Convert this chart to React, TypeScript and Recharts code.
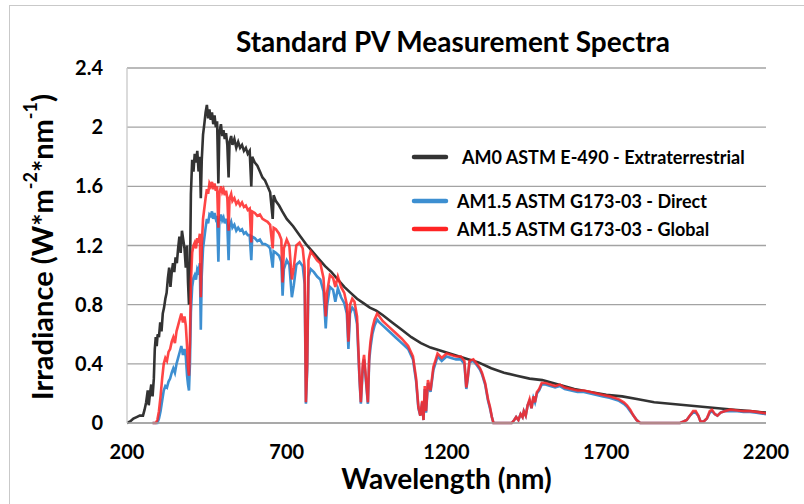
import * as React from "react"
import { LineChart, Line, XAxis, YAxis, CartesianGrid } from "recharts"

// [wavelength nm, irradiance W*m^-2*nm^-1]
const am0Spectrum: [number, number][] = [
  [200, 0.0], [210, 0.01], [220, 0.03], [230, 0.04], [240, 0.05], [250, 0.05], [255, 0.09],
  [260, 0.14], [265, 0.22], [268, 0.12], [272, 0.2], [276, 0.26], [280, 0.18], [284, 0.3],
  [287, 0.5], [290, 0.58], [293, 0.52], [296, 0.6], [300, 0.58], [304, 0.68], [308, 0.62],
  [312, 0.74], [316, 0.78], [320, 0.84], [324, 0.88], [328, 0.98], [332, 1.05], [336, 0.92],
  [340, 1.02], [344, 1.08], [348, 1.02], [352, 1.12], [356, 1.08], [360, 1.18], [364, 1.26],
  [368, 1.15], [372, 1.3], [376, 1.24], [380, 1.18], [384, 1.05], [388, 1.2], [391, 0.95],
  [394, 0.8], [397, 0.98], [400, 1.55], [404, 1.78], [408, 1.7], [412, 1.82], [416, 1.76],
  [420, 1.84], [424, 1.7], [428, 1.8], [431, 1.52], [434, 1.78], [438, 1.95], [442, 2.02],
  [446, 2.1], [450, 2.15], [454, 2.06], [458, 2.12], [462, 2.05], [466, 2.1], [470, 2.02],
  [474, 2.08], [478, 2.0], [482, 2.04], [486, 1.62], [489, 1.96], [494, 2.02], [498, 1.94],
  [502, 1.98], [506, 1.92], [510, 1.96], [514, 1.88], [518, 1.66], [521, 1.9], [526, 1.94],
  [530, 1.88], [536, 1.92], [542, 1.86], [548, 1.9], [554, 1.86], [560, 1.88], [566, 1.84],
  [572, 1.86], [578, 1.82], [584, 1.84], [589, 1.6], [592, 1.8], [600, 1.76], [608, 1.74],
  [616, 1.7], [624, 1.66], [632, 1.64], [640, 1.6], [648, 1.56], [656, 1.38], [659, 1.54],
  [666, 1.5], [676, 1.47], [686, 1.43], [700, 1.38], [720, 1.33], [740, 1.27], [760, 1.21],
  [780, 1.16], [800, 1.11], [820, 1.06], [840, 1.02], [860, 0.97], [880, 0.92], [900, 0.88],
  [920, 0.84], [940, 0.81], [960, 0.78], [980, 0.76], [1000, 0.73], [1030, 0.68], [1060, 0.63],
  [1090, 0.58], [1120, 0.54], [1150, 0.51], [1180, 0.49], [1210, 0.47], [1240, 0.45],
  [1270, 0.43], [1300, 0.41], [1340, 0.37], [1380, 0.34], [1420, 0.32], [1460, 0.3],
  [1500, 0.29], [1550, 0.26], [1600, 0.23], [1650, 0.21], [1700, 0.19], [1750, 0.18],
  [1800, 0.16], [1850, 0.14], [1900, 0.13], [1950, 0.12], [2000, 0.11], [2050, 0.1],
  [2100, 0.09], [2150, 0.08], [2200, 0.07],
]

const directSpectrum: [number, number][] = [
  [280, 0], [290, 0], [295, 0], [300, 0.03], [305, 0.08], [310, 0.15], [315, 0.22], [320, 0.25],
  [325, 0.24], [330, 0.28], [335, 0.3], [340, 0.34], [345, 0.37], [350, 0.34], [355, 0.4],
  [360, 0.44], [365, 0.48], [370, 0.52], [375, 0.46], [380, 0.5], [384, 0.45], [388, 0.32],
  [391, 0.26], [394, 0.22], [397, 0.4], [400, 0.75], [404, 0.92], [408, 0.98], [412, 1.0],
  [416, 0.97], [420, 1.04], [424, 1.02], [428, 1.08], [431, 0.63], [434, 1.0], [438, 1.18],
  [442, 1.25], [446, 1.32], [450, 1.38], [454, 1.35], [458, 1.41], [462, 1.4], [466, 1.43],
  [470, 1.38], [474, 1.42], [478, 1.38], [482, 1.4], [486, 1.09], [489, 1.36], [494, 1.41],
  [498, 1.37], [502, 1.39], [506, 1.35], [510, 1.38], [514, 1.34], [518, 1.1], [521, 1.33],
  [526, 1.36], [530, 1.32], [536, 1.34], [542, 1.3], [548, 1.32], [554, 1.3], [560, 1.31],
  [566, 1.28], [572, 1.29], [578, 1.27], [584, 1.27], [589, 1.1], [592, 1.26], [600, 1.25],
  [608, 1.23], [616, 1.24], [624, 1.21], [632, 1.21], [640, 1.2], [648, 1.18], [656, 1.05],
  [659, 1.16], [666, 1.15], [676, 1.13], [683, 1.09], [687, 0.86], [691, 1.04], [700, 1.1],
  [708, 1.07], [716, 0.85], [722, 0.93], [730, 1.07], [740, 1.09], [750, 1.06], [756, 0.94],
  [760, 0.13], [764, 0.36], [768, 0.99], [775, 1.04], [785, 1.02], [795, 0.99], [805, 0.97],
  [815, 0.89], [822, 0.64], [826, 0.79], [835, 0.92], [845, 0.9], [852, 0.82], [860, 0.91],
  [870, 0.85], [880, 0.81], [888, 0.74], [893, 0.5], [898, 0.74], [905, 0.78], [912, 0.76],
  [920, 0.67], [928, 0.28], [932, 0.13], [938, 0.37], [942, 0.43], [948, 0.28], [954, 0.13],
  [958, 0.42], [962, 0.51], [968, 0.6], [975, 0.66], [983, 0.7], [990, 0.68], [1000, 0.66],
  [1020, 0.62], [1040, 0.58], [1060, 0.54], [1080, 0.5], [1095, 0.43], [1105, 0.28],
  [1112, 0.1], [1118, 0.05], [1124, 0.14], [1128, 0.02], [1132, 0.23], [1136, 0.07],
  [1142, 0.27], [1150, 0.21], [1159, 0.36], [1165, 0.4], [1172, 0.45], [1185, 0.42],
  [1200, 0.45], [1215, 0.44], [1230, 0.43], [1245, 0.43], [1256, 0.4], [1262, 0.23],
  [1266, 0.29], [1272, 0.41], [1284, 0.42], [1295, 0.39], [1305, 0.36], [1311, 0.33],
  [1321, 0.26], [1330, 0.15], [1336, 0.1], [1342, 0.04], [1347, 0], [1380, 0], [1404, 0],
  [1412, 0.02], [1418, 0.04], [1425, 0.02], [1432, 0.06], [1438, 0.04], [1442, 0.08],
  [1448, 0.05], [1454, 0.12], [1460, 0.15], [1466, 0.1], [1472, 0.17], [1477, 0.14],
  [1483, 0.2], [1490, 0.22], [1498, 0.26], [1510, 0.26], [1525, 0.25], [1540, 0.24],
  [1555, 0.25], [1570, 0.23], [1590, 0.22], [1610, 0.21], [1630, 0.21], [1650, 0.2],
  [1670, 0.19], [1690, 0.18], [1710, 0.17], [1725, 0.16], [1740, 0.15], [1755, 0.13],
  [1765, 0.11], [1775, 0.08], [1785, 0.05], [1795, 0.02], [1806, 0], [1931, 0], [1942, 0.01],
  [1952, 0.02], [1962, 0.05], [1972, 0.07], [1980, 0.07], [1988, 0.05], [1995, 0.01],
  [2005, 0.01], [2015, 0.03], [2024, 0.07], [2031, 0.08], [2040, 0.06], [2048, 0.05],
  [2058, 0.07], [2070, 0.08], [2088, 0.08], [2110, 0.08], [2130, 0.075], [2150, 0.075],
  [2170, 0.07], [2185, 0.065], [2200, 0.06],
]

const globalSpectrum: [number, number][] = [
  [280, 0], [290, 0], [295, 0.02], [300, 0.08], [305, 0.18], [310, 0.3], [315, 0.4], [320, 0.44],
  [325, 0.42], [330, 0.48], [335, 0.5], [340, 0.55], [345, 0.58], [350, 0.54], [355, 0.62],
  [360, 0.66], [365, 0.7], [370, 0.74], [375, 0.68], [380, 0.72], [384, 0.66], [388, 0.52],
  [391, 0.38], [394, 0.32], [397, 0.55], [400, 0.95], [404, 1.15], [408, 1.2], [412, 1.22],
  [416, 1.18], [420, 1.25], [424, 1.22], [428, 1.28], [431, 0.85], [434, 1.2], [438, 1.38],
  [442, 1.45], [446, 1.52], [450, 1.58], [454, 1.55], [458, 1.62], [462, 1.6], [466, 1.63],
  [470, 1.58], [474, 1.62], [478, 1.57], [482, 1.6], [486, 1.32], [489, 1.55], [494, 1.6],
  [498, 1.56], [502, 1.58], [506, 1.54], [510, 1.57], [514, 1.52], [518, 1.3], [521, 1.52],
  [526, 1.55], [530, 1.5], [536, 1.52], [542, 1.48], [548, 1.5], [554, 1.47], [560, 1.49],
  [566, 1.46], [572, 1.47], [578, 1.44], [584, 1.45], [589, 1.22], [592, 1.43], [600, 1.42],
  [608, 1.4], [616, 1.41], [624, 1.38], [632, 1.37], [640, 1.36], [648, 1.34], [656, 1.18],
  [659, 1.32], [666, 1.31], [676, 1.28], [683, 1.24], [687, 0.95], [691, 1.18], [700, 1.24],
  [708, 1.2], [716, 0.97], [722, 1.05], [730, 1.2], [740, 1.22], [750, 1.18], [756, 1.05],
  [760, 0.14], [764, 0.4], [768, 1.1], [775, 1.16], [785, 1.13], [795, 1.1], [805, 1.08],
  [815, 0.98], [822, 0.72], [826, 0.88], [835, 1.0], [845, 0.98], [852, 0.92], [860, 0.99],
  [870, 0.92], [880, 0.88], [888, 0.8], [893, 0.55], [898, 0.8], [905, 0.84], [912, 0.82],
  [920, 0.72], [928, 0.3], [932, 0.14], [938, 0.4], [942, 0.46], [948, 0.3], [954, 0.14],
  [958, 0.45], [962, 0.55], [968, 0.64], [975, 0.7], [983, 0.74], [990, 0.72], [1000, 0.69],
  [1020, 0.65], [1040, 0.61], [1060, 0.57], [1080, 0.52], [1095, 0.45], [1105, 0.3],
  [1112, 0.11], [1118, 0.05], [1124, 0.15], [1128, 0.02], [1132, 0.25], [1136, 0.08],
  [1142, 0.29], [1150, 0.22], [1159, 0.38], [1165, 0.42], [1172, 0.47], [1185, 0.44],
  [1200, 0.47], [1215, 0.46], [1230, 0.45], [1245, 0.45], [1256, 0.42], [1262, 0.24],
  [1266, 0.3], [1272, 0.42], [1284, 0.43], [1295, 0.4], [1305, 0.37], [1311, 0.34],
  [1321, 0.27], [1330, 0.16], [1336, 0.11], [1342, 0.04], [1347, 0], [1380, 0], [1404, 0],
  [1412, 0.02], [1418, 0.04], [1425, 0.02], [1432, 0.06], [1438, 0.04], [1442, 0.08],
  [1448, 0.05], [1454, 0.12], [1460, 0.16], [1466, 0.1], [1472, 0.18], [1477, 0.14],
  [1483, 0.21], [1490, 0.23], [1498, 0.27], [1510, 0.27], [1525, 0.26], [1540, 0.25],
  [1555, 0.26], [1570, 0.24], [1590, 0.23], [1610, 0.22], [1630, 0.22], [1650, 0.21],
  [1670, 0.2], [1690, 0.19], [1710, 0.18], [1725, 0.17], [1740, 0.16], [1755, 0.14],
  [1765, 0.12], [1775, 0.09], [1785, 0.05], [1795, 0.02], [1806, 0], [1931, 0], [1942, 0.01],
  [1952, 0.02], [1962, 0.05], [1972, 0.08], [1980, 0.08], [1988, 0.05], [1995, 0.01],
  [2005, 0.01], [2015, 0.03], [2024, 0.08], [2031, 0.09], [2040, 0.06], [2048, 0.05],
  [2058, 0.07], [2070, 0.08], [2088, 0.09], [2110, 0.085], [2130, 0.08], [2150, 0.08],
  [2170, 0.075], [2185, 0.07], [2200, 0.065],
]

const xTicks = [200, 700, 1200, 1700, 2200]
const yTicks = [0, 0.4, 0.8, 1.2, 1.6, 2, 2.4]

const SERIES = [
  { name: "AM0 ASTM E-490 - Extraterrestrial", data: am0Spectrum, color: "#333333", opacity: 1 },
  { name: "AM1.5 ASTM G173-03 - Direct", data: directSpectrum, color: "#3d8fd1", opacity: 1 },
  { name: "AM1.5 ASTM G173-03 - Global", data: globalSpectrum, color: "#ff2424", opacity: 0.85 },
]

const FONT = "Lato, 'Open Sans', sans-serif"
const toRows = (pts: [number, number][]) => pts.map(([nm, v]) => ({ nm, v }))

function YLabel() {
  return (
    <text
      transform="translate(41,247) rotate(-90)"
      textAnchor="middle"
      dominantBaseline="central"
      fontFamily={FONT}
      fontWeight={700}
      fontSize={29}
      fill="#000"
    >
      Irradiance (W*m
      <tspan fontSize={18} dy={-11}>-2</tspan>
      <tspan dy={11}>*nm</tspan>
      <tspan fontSize={18} dy={-11}>-1</tspan>
      <tspan dy={11}>)</tspan>
    </text>
  )
}

function LegendBox() {
  const rows = [
    { s: SERIES[0], y: 157, tx: 462 },
    { s: SERIES[1], y: 201, tx: 457 },
    { s: SERIES[2], y: 229, tx: 457 },
  ]
  return (
    <svg width={804} height={504} style={{ position: "absolute", left: 0, top: 0, pointerEvents: "none" }}>
      {rows.map(({ s, y, tx }) => (
        <g key={s.name}>
          <line x1={414} x2={446} y1={y} y2={y} stroke={s.color} strokeWidth={4.5} strokeLinecap="round" />
          <text x={tx} y={y} dominantBaseline="central" fontFamily={FONT} fontWeight={700} fontSize={18} fill="#000">
            {s.name}
          </text>
        </g>
      ))}
    </svg>
  )
}

export default function App() {
  return (
    <div style={{ position: "relative", width: 804, height: 504, background: "#fff", overflow: "hidden" }}>
      <style>{`body{margin:0}`}</style>
      <div style={{ position: "absolute", left: 9, top: 5, width: 800, height: 504, border: "1.5px solid #c9c9c9" }} />
      <div
        style={{
          position: "absolute", left: 0, top: 25, width: 906, textAlign: "center",
          fontFamily: FONT, fontWeight: 700, fontSize: 28, color: "#000", lineHeight: "32px",
        }}
      >
        Standard PV Measurement Spectra
      </div>
      <LineChart width={804} height={504} margin={{ top: 68, right: 38, bottom: 51, left: 72 }}>
        <CartesianGrid vertical={false} stroke="#a3a3a3" strokeWidth={1.3} />
        <XAxis
          type="number"
          dataKey="nm"
          domain={[200, 2200]}
          ticks={xTicks}
          allowDataOverflow
          height={30}
          tickLine={false}
          tickSize={0}
          tickMargin={22}
          axisLine={{ stroke: "#a3a3a3", strokeWidth: 1.3 }}
          tick={{ fontFamily: FONT, fontWeight: 700, fontSize: 20, fill: "#000" }}
          label={{
            value: "Wavelength (nm)", position: "insideBottom", offset: -36,
            style: { fontFamily: FONT, fontWeight: 700, fontSize: 28, fill: "#000" },
          }}
        />
        <YAxis
          type="number"
          domain={[0, 2.4]}
          ticks={yTicks}
          width={55}
          tickLine={false}
          tickSize={0}
          tickMargin={24}
          axisLine={{ stroke: "#c8c8c8", strokeWidth: 1.3 }}
          tick={{ fontFamily: FONT, fontWeight: 700, fontSize: 20, fill: "#000" }}
          label={<YLabel />}
        />
        {SERIES.map((s) => (
          <Line
            key={s.name}
            name={s.name}
            data={toRows(s.data)}
            dataKey="v"
            type="linear"
            stroke={s.color}
            strokeOpacity={s.opacity}
            strokeWidth={2.6}
            dot={false}
            activeDot={false}
            isAnimationActive={false}
          />
        ))}
      </LineChart>
      <LegendBox />
    </div>
  )
}
